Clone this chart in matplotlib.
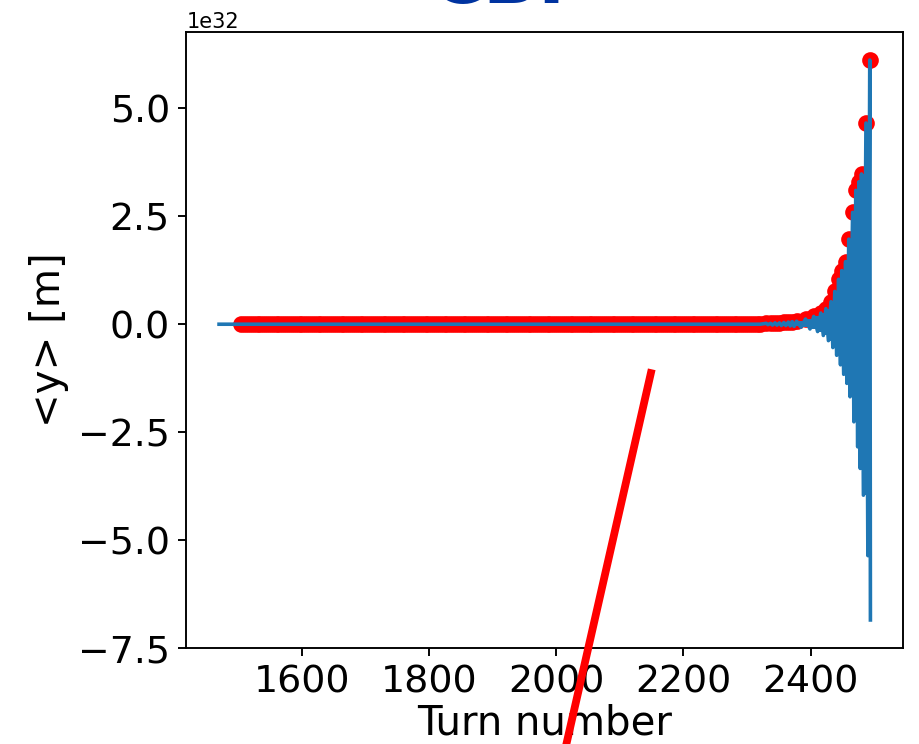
import numpy as np
import matplotlib
matplotlib.use("Agg")
import matplotlib.pyplot as plt
from matplotlib.lines import Line2D

# Centroid <y> per turn (units of 1e32 m)
SCALE = 1e32
start_turn = 1470
start_value = 0.0

# Quiet part of the run: the peaks sit at zero on this scale
flat_peak_turns = np.arange(1505, 2326, 6)
flat_peak_value = 0.0

# Growth of the instability: local maxima and minima of <y>
growth_peak_turns = [2330, 2337, 2344, 2351, 2358, 2365, 2371, 2378, 2392, 2405,
                     2416, 2424, 2432, 2438, 2444, 2449, 2455, 2460, 2466, 2471,
                     2476, 2480, 2487, 2493]
growth_peak_values = [0.02, 0.02, 0.03, 0.03, 0.04, 0.05, 0.06, 0.07, 0.12, 0.18,
                      0.26, 0.36, 0.52, 0.76, 1.04, 1.24, 1.45, 1.97, 2.59, 3.10,
                      3.30, 3.48, 4.66, 6.12]
growth_trough_turns = [2333, 2340, 2347, 2354, 2361, 2368, 2374, 2385, 2399, 2411,
                       2420, 2428, 2435, 2441, 2447, 2452, 2457, 2462, 2468, 2474,
                       2478, 2483, 2490, 2494]
growth_trough_values = [-0.01, -0.02, -0.02, -0.03, -0.03, -0.04, -0.05, -0.07, -0.11, -0.17,
                        -0.26, -0.38, -0.54, -0.72, -0.94, -1.16, -1.37, -1.68, -2.26, -2.84,
                        -3.34, -3.96, -5.36, -6.85]

# Assemble the turn-by-turn trace and the detected peaks
peak_turns = np.concatenate([flat_peak_turns, growth_peak_turns])
peak_values = np.concatenate([np.full(len(flat_peak_turns), flat_peak_value),
                              growth_peak_values]) * SCALE
g_peak_t = np.array(growth_peak_turns)
g_peak_v = np.array(growth_peak_values) * SCALE
g_trough_t = np.array(growth_trough_turns)
g_trough_v = np.array(growth_trough_values) * SCALE

trace_turns = np.concatenate([[start_turn], peak_turns, g_trough_t])
trace_values = np.concatenate([[start_value * SCALE], peak_values, g_trough_v])
order = np.argsort(trace_turns, kind="stable")
trace_turns = trace_turns[order]
trace_values = trace_values[order]

blue = "#1f77b4"

fig = plt.figure(figsize=(9.2, 7.44), dpi=100)
ax = fig.add_axes([0.2027, 0.129, 0.7788, 0.828])

ax.plot(peak_turns, peak_values, "o", color="red", ms=10.3, mew=1.7, zorder=1.5)
# fast oscillation fills the envelope solid
ax.fill_between(g_peak_t, 0, g_peak_v, step="post", color=blue, lw=0, zorder=1.8)
ax.fill_between(g_trough_t, g_trough_v, 0, step="post", color=blue, lw=0, zorder=1.8)
ax.plot(trace_turns, trace_values, color=blue, lw=2.6, zorder=2)

ax.set_xticks([1600, 1800, 2000, 2200, 2400])
ax.set_yticks(np.array([-7.5, -5.0, -2.5, 0.0, 2.5, 5.0]) * SCALE)

for s in ax.spines.values():
    s.set_linewidth(1.37)
ax.tick_params(labelsize=27.3, length=6, width=1.37, pad=6)
ax.yaxis.get_offset_text().set_fontsize(15)

ax.set_xlabel("Turn number", fontsize=29, labelpad=2)
ax.set_ylabel("<y> [m]", fontsize=29, labelpad=6)

# Slide decorations: section heading and pointer stroke
fig.text(0.541, 1 - 3 / 744, "CBI", fontsize=52, fontweight="bold",
         color="#0033A0", ha="center", va="baseline")
fig.add_artist(Line2D([0.7084, 0.6117], [0.5036, -0.0215], transform=fig.transFigure,
                      color="red", lw=5.6, solid_capstyle="butt"))

fig.savefig("out.png", dpi=100)
